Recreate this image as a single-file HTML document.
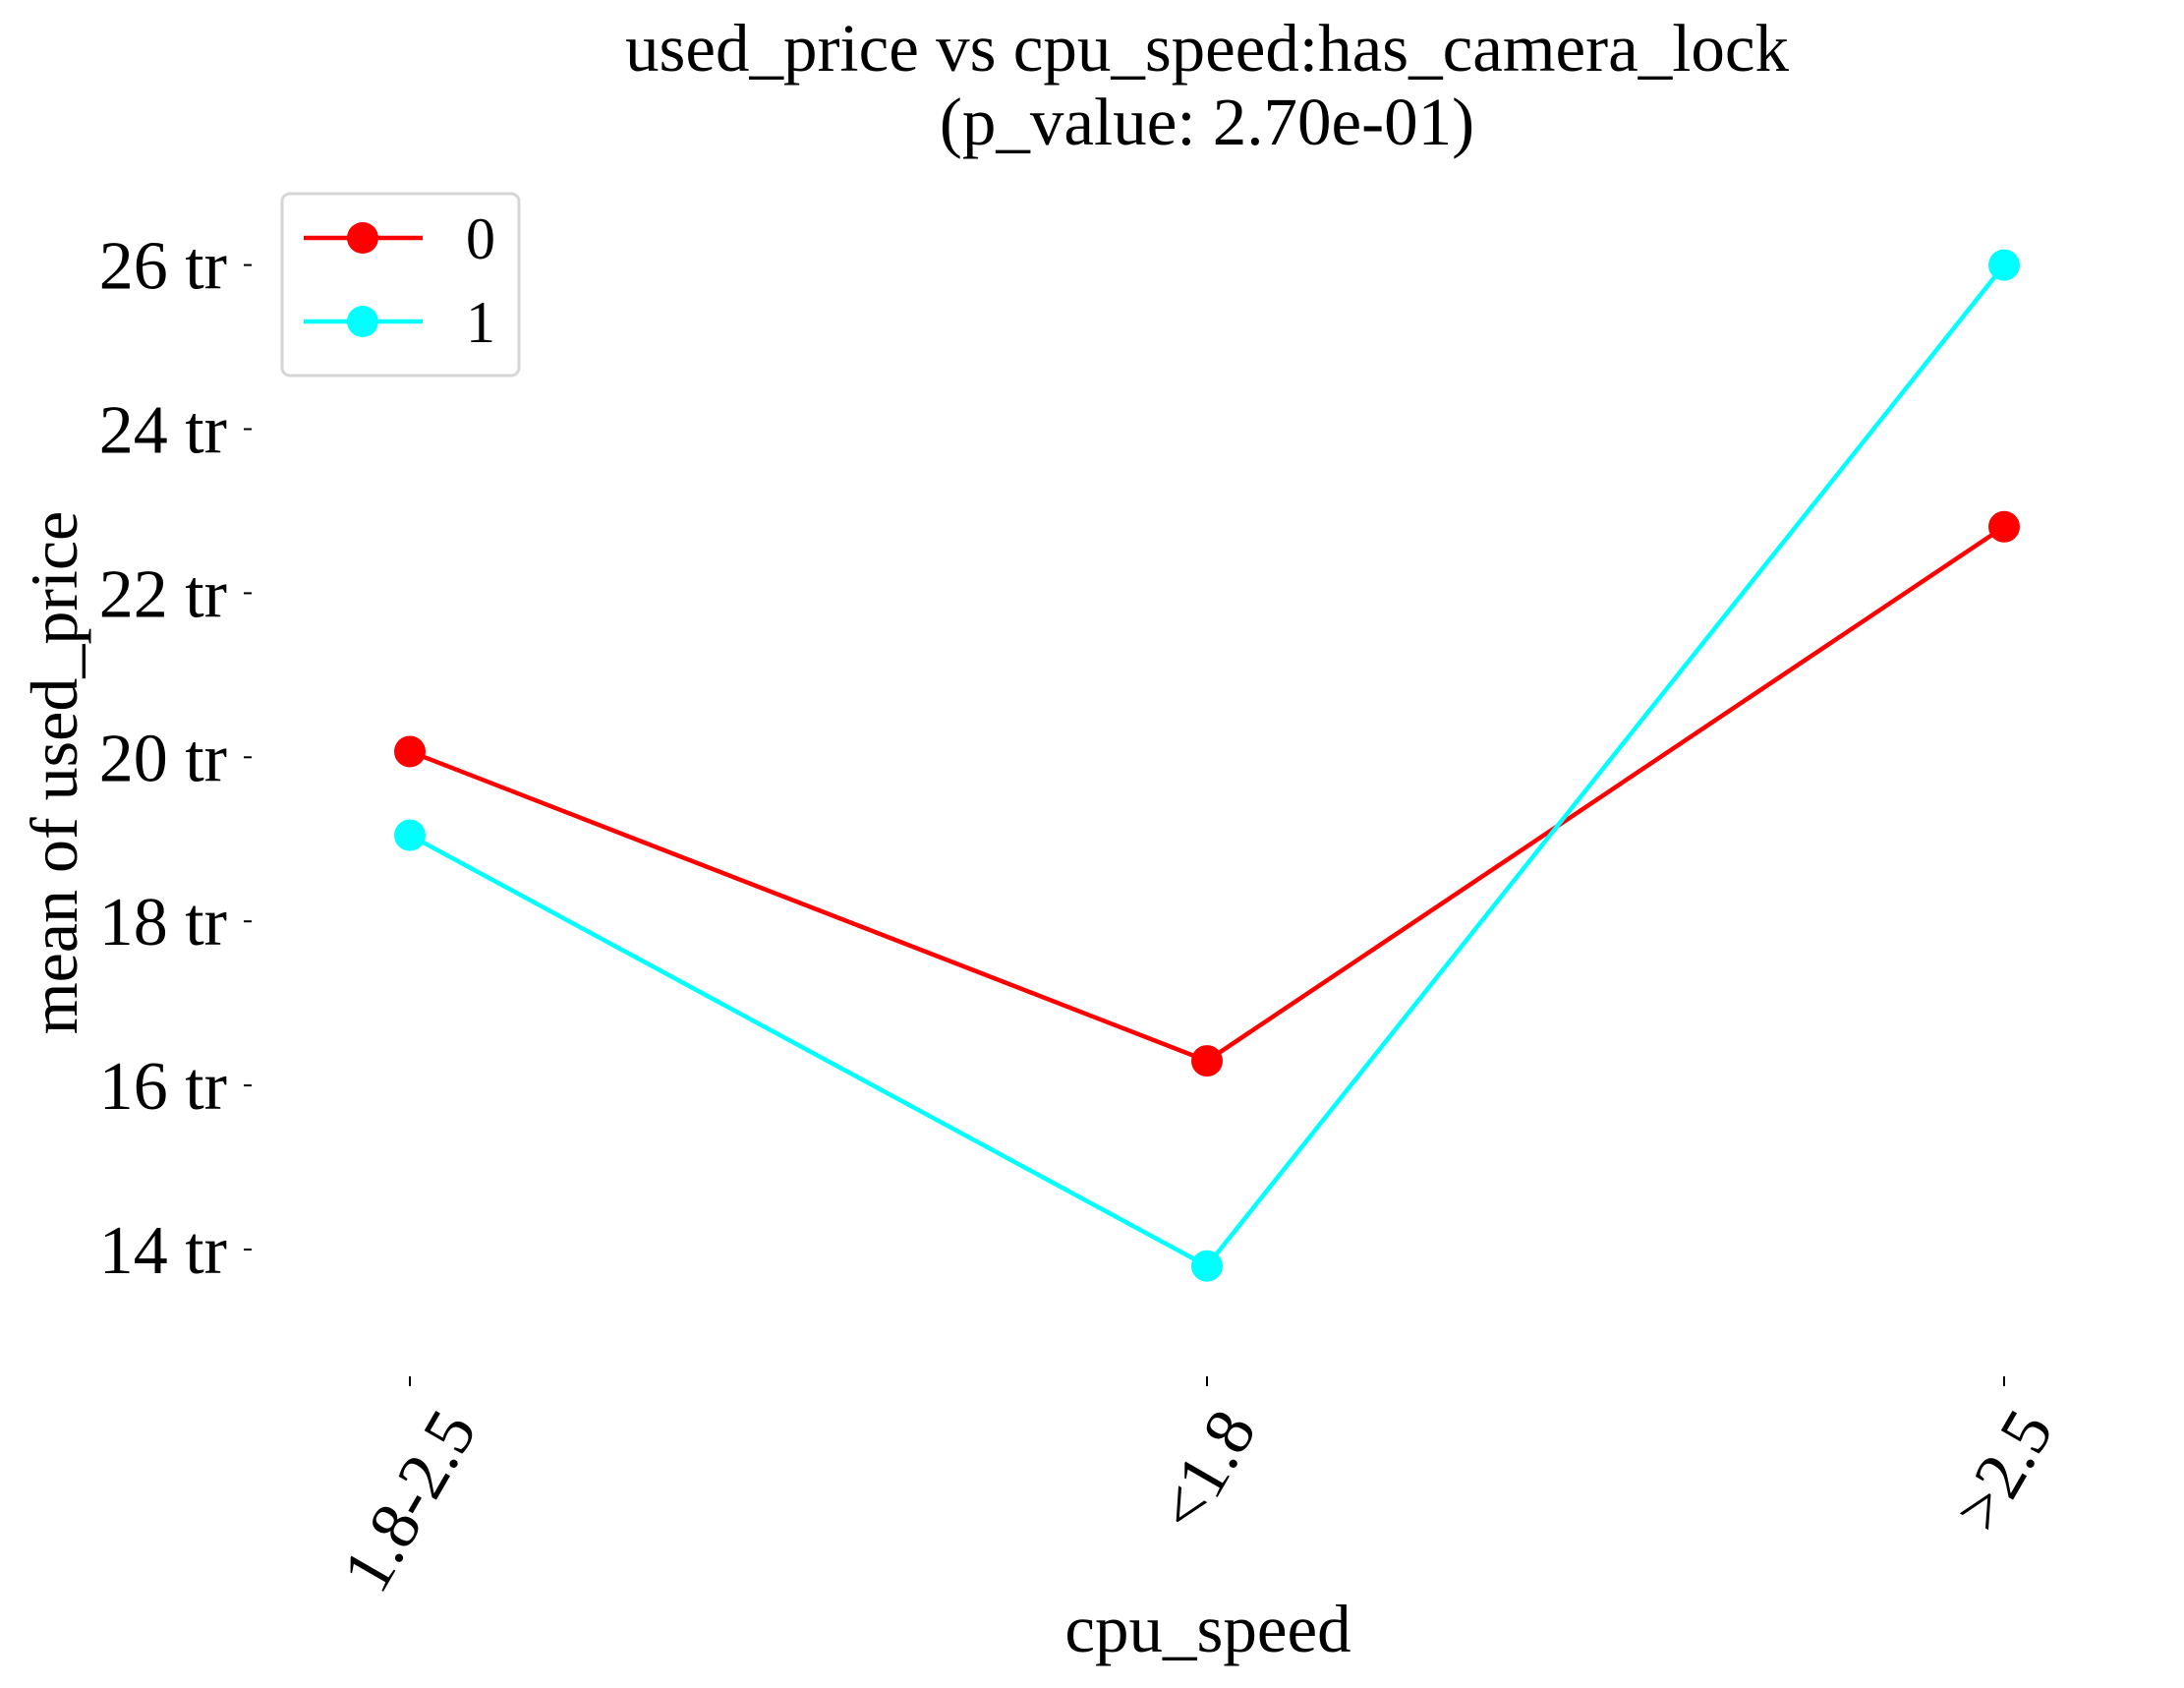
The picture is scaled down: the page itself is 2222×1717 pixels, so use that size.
<!DOCTYPE html>
<html><head><meta charset="utf-8"><style>
html,body{margin:0;padding:0;background:#fff;}
svg{display:block;font-family:"Liberation Serif",serif;}
</style></head><body>
<svg id="chart" width="2222" height="1717" viewBox="0 0 2222 1717">
<text x="1228" y="72" font-size="69" text-anchor="middle">used_price vs cpu_speed:has_camera_lock</text>
<text x="1228" y="147" font-size="69" text-anchor="middle">(p_value: 2.70e-01)</text>
<text transform="translate(78,786) rotate(-90)" font-size="68" text-anchor="middle">mean of used_price</text>
<text x="1229" y="1680" font-size="69" text-anchor="middle">cpu_speed</text>
<g id="yaxis"></g>
<g id="xaxis"></g>
<g id="series"></g>
<g>
<rect x="287" y="197" width="241" height="185" rx="8" fill="#fff" stroke="#d6d6d6" stroke-width="3"/>
<g>
<line x1="309" y1="242" x2="430" y2="242" stroke="#ff0000" stroke-width="4.5"/>
<circle cx="369" cy="242" r="16" fill="#ff0000"/>
<text x="474" y="263" font-size="60">0</text></g>
<g>
<line x1="309" y1="327" x2="430" y2="327" stroke="#00ffff" stroke-width="4.5"/>
<circle cx="369" cy="327" r="16" fill="#00ffff"/>
<text x="474" y="348" font-size="60">1</text></g>
</g>
</svg>
<script>
const categories = ["1.8-2.5", "<1.8", ">2.5"];
const series0 = [20.07, 16.30, 22.81];
const series1 = [19.05, 13.80, 26.00];
const yTicks = [14, 16, 18, 20, 22, 24, 26];
const yTickLabels = ["14 tr", "16 tr", "18 tr", "20 tr", "22 tr", "24 tr", "26 tr"];
const NS = "http://www.w3.org/2000/svg";
function yScale(v){ return 269.6 + (26 - v) * (1271 - 269.6) / 12; }
function xScale(i){ return 417 + i * (2039 - 417) / 2; }
function mk(tag, attrs, parent){ const e = document.createElementNS(NS, tag); for (const k in attrs) e.setAttribute(k, attrs[k]); parent.appendChild(e); return e; }
const ya = document.getElementById('yaxis');
yTicks.forEach((t, i) => {
  const y = yScale(t);
  const l = mk('line', {x1: 248, x2: 256, y1: y, y2: y, stroke: '#000', 'stroke-width': 2}, ya);
  
  
  const tx = mk('text', {x: 231, y: y + 24, 'font-size': 70, 'text-anchor': 'end'}, ya);
  tx.textContent = yTickLabels[i];
  
  
});
const xa = document.getElementById('xaxis');
categories.forEach((c, i) => {
  const x = xScale(i);
  const l = mk('line', {x1: x, x2: x, y1: 1400, y2: 1410, stroke: '#000', 'stroke-width': 2}, xa);
  
  
  const g = mk('g', {}, xa);
  const tx = mk('text', {x: 0, y: 0, 'font-size': 70, 'text-anchor': 'middle', 'dominant-baseline': 'central'}, g);
  tx.textContent = c;
  
  
  const bb = tx.getBBox();
  const s = Math.sin(Math.PI/3), co = Math.cos(Math.PI/3);
  const halfH = (bb.width * s + bb.height * co) / 2;
  g.setAttribute('transform', 'translate(' + x + ',' + (1422 + halfH) + ') rotate(-60)');
});
const sg = document.getElementById('series');
[[series0, '#ff0000', 'red'], [series1, '#00ffff', 'cyan']].forEach(([vals, col, nm]) => {
  const pts = vals.map((v, i) => xScale(i) + ',' + yScale(v)).join(' ');
  const pl = mk('polyline', {points: pts, fill: 'none', stroke: col, 'stroke-width': 4.5}, sg);
  
  
  vals.forEach((v, i) => {
    const c = mk('circle', {cx: xScale(i), cy: yScale(v), r: 16, fill: col}, sg);
    
    
  });
});
</script>
</body></html>
